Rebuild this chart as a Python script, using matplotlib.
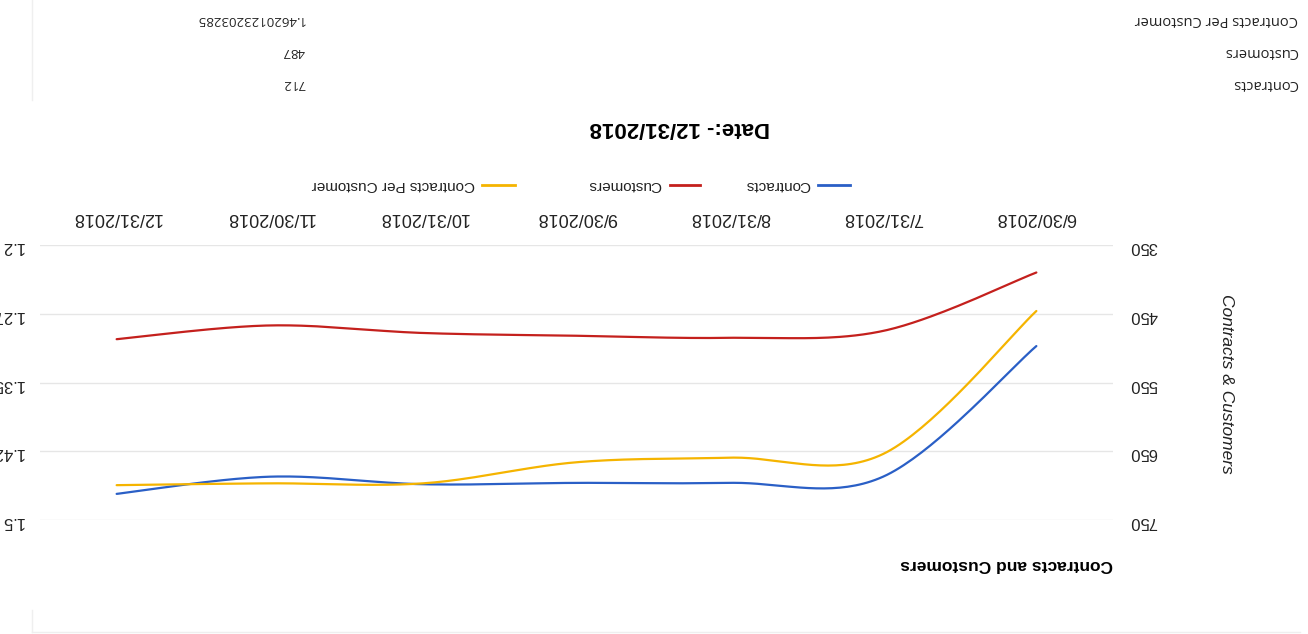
import matplotlib
matplotlib.use('Agg')
import matplotlib.pyplot as plt
from matplotlib.lines import Line2D
import numpy as np

# ---------------- data ----------------
dates = ['6/30/2018', '7/31/2018', '8/31/2018', '9/30/2018',
         '10/31/2018', '11/30/2018', '12/31/2018']
contracts = [497, 687, 696, 696, 698, 687, 712]
customers = [390, 475, 485, 482, 478, 467, 487]
contracts_per_customer = [1.272, 1.428, 1.432, 1.437, 1.460, 1.460, 1.462]
left_ticks = [350, 450, 550, 650, 750]
right_ticks = [1.2, 1.275, 1.35, 1.425, 1.5]
right_tick_labels = ['1.2', '1.275', '1.35', '1.425', '1.5']
summary_labels = ['Contracts', 'Customers', 'Contracts Per Customer']
summary_values = ['712', '487', '1.4620123203285']
series_names = ['Contracts', 'Customers', 'Contracts Per Customer']
report_date = '12/31/2018'
chart_title = 'Contracts and Customers'
axis_title = 'Contracts & Customers'

# ---------------- style ----------------
W, H = 1308, 634
C_BLUE, C_RED, C_YEL = '#2a5fc6', '#c4201d', '#f5b400'
GRID = '#e6e6e6'
TXT = '#222222'
plt.rcParams['font.family'] = ['Liberation Sans', 'DejaVu Sans']


def smooth(vals, n=40):
    """Cubic Bezier smoothing through the points (Google 'function' curve)."""
    y = np.asarray(vals, float)
    x = np.arange(len(y), dtype=float)
    m = len(y)
    t = np.linspace(0, 1, n)
    xs, ys = [], []
    for i in range(m - 1):
        pv, nx = max(i - 1, 0), min(i + 2, m - 1)
        c1x = x[i] + (x[i + 1] - x[pv]) / 6
        c1y = y[i] + (y[i + 1] - y[pv]) / 6
        c2x = x[i + 1] - (x[nx] - x[i]) / 6
        c2y = y[i + 1] - (y[nx] - y[i]) / 6
        bx = (1 - t) ** 3 * x[i] + 3 * (1 - t) ** 2 * t * c1x + 3 * (1 - t) * t ** 2 * c2x + t ** 3 * x[i + 1]
        by = (1 - t) ** 3 * y[i] + 3 * (1 - t) ** 2 * t * c1y + 3 * (1 - t) * t ** 2 * c2y + t ** 3 * y[i + 1]
        xs.append(bx if i == 0 else bx[1:])
        ys.append(by if i == 0 else by[1:])
    return np.concatenate(xs), np.concatenate(ys)


fig = plt.figure(figsize=(W / 100, H / 100), dpi=100)
fig.patch.set_facecolor('white')

def fx(px):
    return px / W

def fy(py):
    return 1 - py / H

# whole page is upside down: plot area in page pixels x 40..1113, y 245..520
ax = fig.add_axes([fx(40), fy(520), (1113 - 40) / W, (520 - 245) / H])
ax.set_xlim(len(dates) - 0.5, -0.5)
ax.set_ylim(max(left_ticks), min(left_ticks))
ax2 = ax.twinx()
ax2.set_ylim(max(right_ticks), min(right_ticks))

for a in (ax, ax2):
    for s in a.spines.values():
        s.set_visible(False)

ax.set_yticks(left_ticks)
ax.set_yticklabels([str(v) for v in left_ticks])
ax.yaxis.set_ticks_position('right')
ax.tick_params(axis='y', length=0, pad=12, labelrotation=180,
               labelsize=12, labelcolor=TXT)
ax.yaxis.grid(True, color=GRID, lw=1)
ax.set_axisbelow(True)

ax2.set_yticks(right_ticks)
ax2.set_yticklabels(right_tick_labels)
ax2.yaxis.set_ticks_position('left')
ax2.tick_params(axis='y', length=0, pad=12, labelrotation=180,
                labelsize=12, labelcolor=TXT)

ax.set_xticks(range(len(dates)))
ax.set_xticklabels(dates)
ax.xaxis.tick_top()
ax.tick_params(axis='x', length=0, pad=14, labelrotation=180,
               labelsize=13, labelcolor=TXT)

xs, ys = smooth(contracts)
ax.plot(xs, ys, color=C_BLUE, lw=1.6, solid_capstyle='round')
xs, ys = smooth(customers)
ax.plot(xs, ys, color=C_RED, lw=1.6, solid_capstyle='round')
xs, ys = smooth(contracts_per_customer)
ax2.plot(xs, ys, color=C_YEL, lw=1.6, solid_capstyle='round')

# axis title (vertical, reads top-to-bottom on the flipped page)
fig.text(fx(1227), fy(384), axis_title, rotation=270, ha='center', va='center',
         fontsize=12.5, style='italic', color=TXT)

# chart title
fig.text(fx(1113), fy(565), chart_title, rotation=180, ha='right', va='center',
         fontsize=12.5, fontweight='bold', color='black')

# legend (manual, flipped)
leg_y = 185
leg_items = [(series_names[0], C_BLUE, 850, 818, 810),
             (series_names[1], C_RED, 700, 670, 661),
             (series_names[2], C_YEL, 515, 482, 475)]
for name, col, x1, x2, xt in leg_items:
    fig.add_artist(Line2D([fx(x1), fx(x2)], [fy(leg_y), fy(leg_y)],
                          color=col, lw=2, transform=fig.transFigure))
    fig.text(fx(xt), fy(leg_y), name, rotation=180, ha='right', va='center',
             fontsize=11, color=TXT)

# date heading
fig.text(fx(680), fy(127), 'Date:- ' + report_date, rotation=180,
         ha='center', va='center', fontsize=16, fontweight='bold', color='black')

# summary table
rows_y = [83, 52, 19]
for lab, val, yy in zip(summary_labels, summary_values, rows_y):
    fig.text(fx(1298), fy(yy), lab, rotation=180, ha='right', va='center',
             fontsize=10.5, family=['Open Sans', 'DejaVu Sans'], color=TXT)
    fig.text(fx(305), fy(yy), val, rotation=180, ha='right', va='center',
             fontsize=9.5, family=['Open Sans', 'DejaVu Sans'], color=TXT)

# faint page frame lines from the scan
fig.add_artist(Line2D([fx(32), fx(32)], [fy(0), fy(100)], color='#efefef',
                      lw=1, transform=fig.transFigure))
fig.add_artist(Line2D([fx(32), fx(32)], [fy(610), fy(632)], color='#efefef',
                      lw=1, transform=fig.transFigure))
fig.add_artist(Line2D([fx(32), fx(1300)], [fy(632), fy(632)], color='#efefef',
                      lw=1, transform=fig.transFigure))

fig.savefig('out.png', dpi=100, facecolor='white')
